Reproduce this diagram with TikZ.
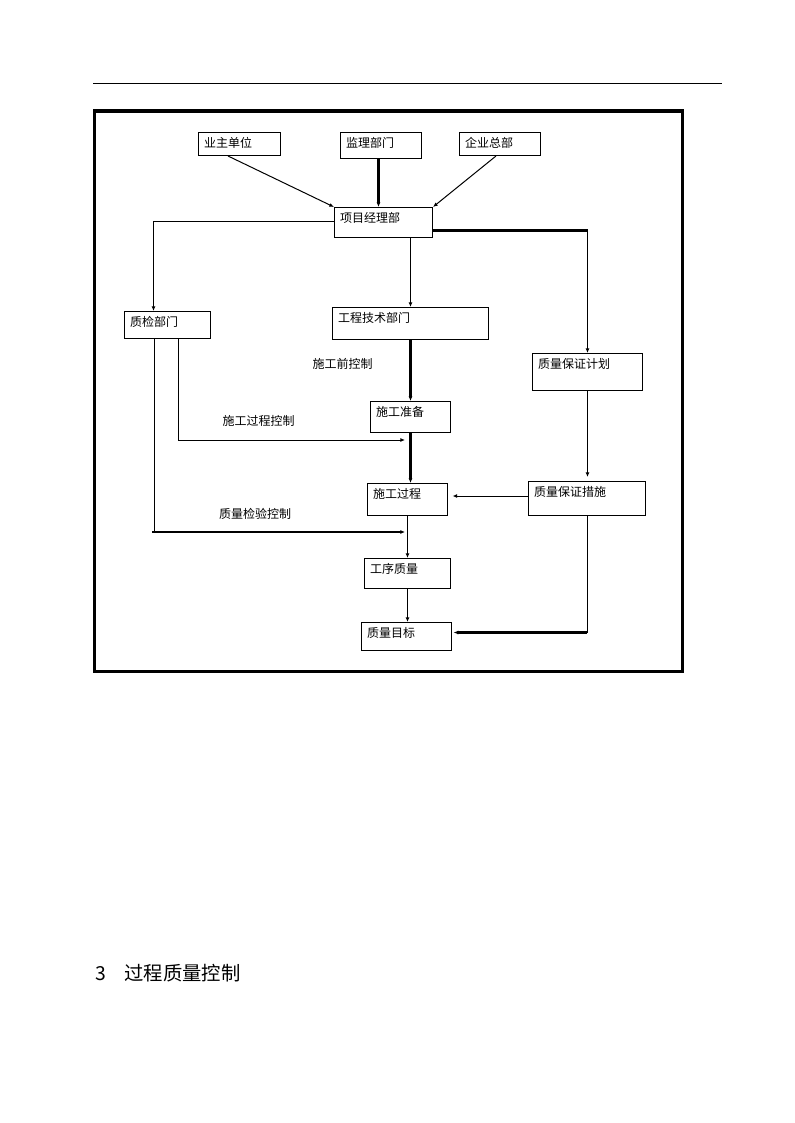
\documentclass[tikz,border=0pt]{standalone}
\usepackage{fontspec}
\newfontfamily\cjk{Noto Sans CJK SC}
\usepackage{tikz}
\usetikzlibrary{arrows.meta}
\usetikzlibrary{positioning,calc}
\tikzset{
  every node/.style={font=\cjk\fontsize{9}{11}\selectfont},
  link/.style={
    draw,
    line width=0.75pt,
    -{Latex[length=3.5pt,width=3pt]}
  },
  boldlink/.style={
    link,
    line width=1.6pt
  }
}

\begin{document}
\begin{tikzpicture}[x=0.75pt,y=-0.75pt]
  % Define styles for boxes
  \tikzset{
    box/.style 2 args={
      draw,
      line width=0.75pt,
      anchor=north west,
      align=left,
      inner xsep=4.125pt,
      inner ysep=0pt,
      text height=11.25pt,
      text width=#1,
      text depth=#2
    },
    note/.style={inner sep=0pt}
  }
  \useasboundingbox (0,0) rectangle (794,1123);

  % Page rule and frame
  \draw[line width=0.75pt] (93,83.3) -- (722,83.3);
  \draw[line width=2.5pt] (94.5,111) rectangle (682.3,671.3);

  % Top row
  \node[box={53.25pt}{6pt}] (yz) at (198,132) {业主单位};
  \node[box={52.5pt}{8.25pt}] (jl) at (340,132) {监理部门};
  \node[box={52.5pt}{6pt}] (qy) at (459,132) {企业总部};

  % Project department
  \node[box={65.25pt}{11.25pt}] (xm) at (334,207) {项目经理部};

  % Departments
  \node[box={56.25pt}{9pt}] (zj) at (124,311) {质检部门};
  \node[box={108.75pt}{12.75pt}] (gc) at (332,307) {工程技术部门};
  \node[box={74.25pt}{16.5pt}] (jh) at (532,353) {质量保证计划};

  % Construction chain
  \node[box={51.75pt}{12pt}] (sz) at (370,401) {施工准备};
  \node[box={51.75pt}{12.75pt}] (sg) at (367,483) {施工过程};
  \node[box={79.5pt}{14.25pt}] (js) at (528,481) {质量保证措施};
  \node[box={56.25pt}{11.25pt}] (gx) at (364,558) {工序质量};
  \node[box={59.25pt}{9.75pt}] (mb) at (361,622) {质量目标};

  % Control labels
  \node[note] (sqk) at (342.7,364.3) {施工前控制};
  \node[note] (gck) at (258.6,421) {施工过程控制};
  \node[note] (jyk) at (255,514) {质量检验控制};

  % Free ends and corners
  \coordinate (jls) at ($(jl.south)+(-2.5,0)$);
  \coordinate (xmr) at ($(xm.south east)+(0,-7.5)$);
  \coordinate (gk) at (405,440);
  \coordinate (jy) at (405,532);
  \coordinate (zjl) at ($(zj.south west)+(30,0)$);
  \coordinate (jyl) at (zjl |- jy);
  \coordinate (jsw) at ($(js.north west)+(0,15)$);
  \coordinate (jme) at ($(mb.east)+(0,-4)$);

  % Into the project department
  \draw[link] ($(yz.south west)+(30,0)$) -- (xm.north west);
  \draw[boldlink] (jls) -- (jls |- xm.north);
  \draw[link] ($(qy.south west)+(37,0)$) -- (xm.north east);

  % Out of the project department
  \draw[link] ($(xm.north west)+(0,14.5)$) -| ($(zj.north west)+(29.5,0)$);
  \draw[line width=1.3pt] ($(zj.north west)+(29.5,-81)$) -- ++(0,16);
  \draw[link] (xm.south -| gc.north) -- (gc.north);
  \draw[line width=1.6pt] (xmr) -- (xmr -| jh.north);
  \draw[link] (xmr -| jh.north) -- (jh.north);

  % Construction chain
  \draw[boldlink] (gc.south) -- (gc.south |- sz.north);
  \draw[boldlink] (sz.south) -- (sz.south |- sg.north);
  \draw[link] (sg.south) -- (sg.south |- gx.north);
  \draw[link] (gx.south) -- (gx.south |- mb.north);

  % Inspection department controls
  \draw[link] ($(zj.south west)+(54,0)$) |- (gk);
  \draw[line width=0.75pt] (zjl) -- (jyl);
  \draw[boldlink] ($(jyl)+(-2,0)$) -- (jy);

  % Quality assurance side
  \draw[link, shorten >=3pt] (jh.south) -- (jh.south |- js.north);
  \draw[link, shorten >=3.4pt] (jsw) -- (jsw -| sg.east);
  \draw[line width=0.75pt] (js.south) -- (js.south |- jme);
  \draw[boldlink, shorten >=1.2pt] (js.south |- jme) -- (jme);

  % Section heading
  \node[anchor=west, inner sep=0pt, font=\cjk\fontsize{14.5}{16}\selectfont] (title) at (95,973) {3\hspace{14pt}过程质量控制};
\end{tikzpicture}
\end{document}
